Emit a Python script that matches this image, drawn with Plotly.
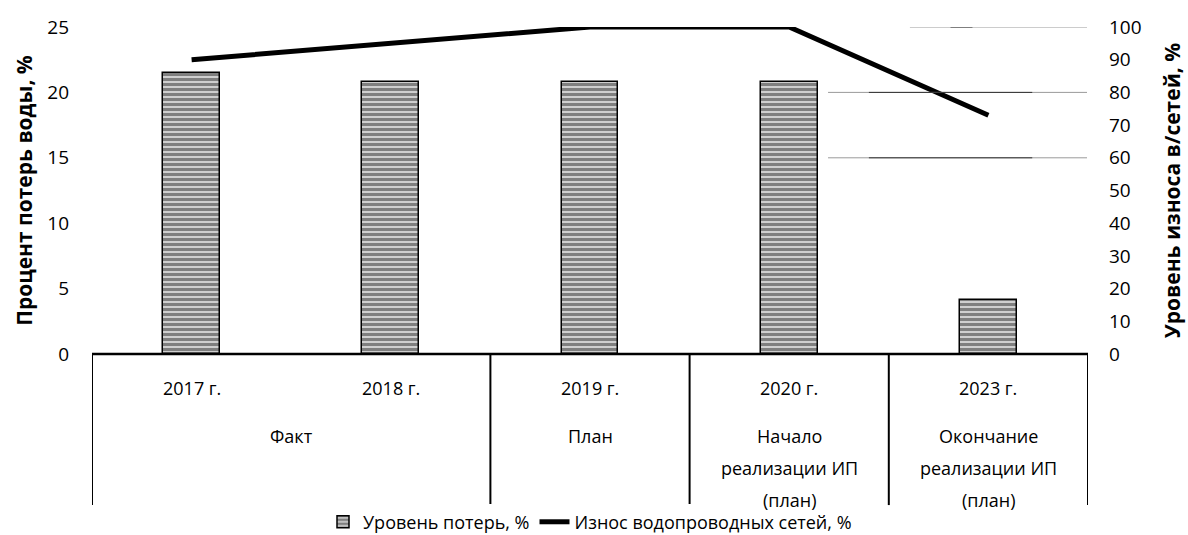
import plotly.graph_objects as go

years = ["2017 г.", "2018 г.", "2019 г.", "2020 г.", "2023 г."]
group_labels = ["Факт", "План", "Начало<br>реализации ИП<br>(план)", "Окончание<br>реализации ИП<br>(план)"]
group_sizes = [2, 1, 1, 1]
losses = [21.5, 20.8, 20.8, 20.8, 4.1]
wear = [90, 95, 100, 100, 73]

FONT = "Open Sans"
xs = list(range(len(years)))

fig = go.Figure()
fig.add_trace(go.Bar(
    x=xs, y=losses, name="Уровень потерь, %", width=0.285,
    marker=dict(color="white", line=dict(color="black", width=1.5),
                pattern=dict(shape="-", fgcolor="black", bgcolor="white", size=5, solidity=0.75)),
))
fig.add_trace(go.Scatter(
    x=xs, y=wear, name="Износ водопроводных сетей, %", yaxis="y2", mode="lines",
    line=dict(color="black", width=5), cliponaxis=False,
))

shapes = []
for yv, x0, x1 in [(100, 3.606, 4.495), (80, 3.195, 4.495), (60, 3.195, 4.495)]:
    shapes.append(dict(type="line", xref="x", yref="y2", x0=x0, x1=x1, y0=yv, y1=yv,
                       line=dict(color="#9a9a9a", width=1)))
for yv, x0, x1 in [(100, 3.81, 3.92), (80, 3.40, 4.22), (60, 3.40, 4.22)]:
    shapes.append(dict(type="line", xref="x", yref="y2", x0=x0, x1=x1, y0=yv, y1=yv,
                       line=dict(color="#333333", width=1)))

shapes.append(dict(type="line", xref="x", yref="paper", x0=-0.5, x1=len(years) - 0.5, y0=0, y1=0,
                   line=dict(color="black", width=2.5)))
annotations = []
CAT_FONT = dict(family=FONT, size=18, color="black")
for i, yl in enumerate(years):
    annotations.append(dict(x=i, y=-0.104, xref="x", yref="paper", text=yl, showarrow=False,
                            font=CAT_FONT, yanchor="middle"))
start = 0
bounds = [-0.5]
line_y = [-0.251, -0.349, -0.446]
for g, n in zip(group_labels, group_sizes):
    center = start + (n - 1) / 2
    for k, part in enumerate(g.split("<br>")):
        annotations.append(dict(x=center, y=line_y[k], xref="x", yref="paper", text=part,
                                showarrow=False, font=CAT_FONT, yanchor="middle"))
    start += n
    bounds.append(start - 0.5)
for b in bounds:
    shapes.append(dict(type="line", xref="x", yref="paper", x0=b, x1=b, y0=0, y1=-0.462,
                       line=dict(color="black", width=2)))

fig.update_layout(
    width=1188, height=535,
    margin=dict(l=92, r=100, t=27, b=181, autoexpand=False),
    plot_bgcolor="white", paper_bgcolor="white",
    font=dict(family=FONT, size=17, color="black"),
    xaxis=dict(range=[-0.5, len(years) - 0.5], showticklabels=False, showgrid=False,
               zeroline=False, showline=False, ticks="", automargin=False),
    yaxis=dict(range=[0, 25], dtick=5, showgrid=False, zeroline=False, showline=False,
               ticks="", ticklabelstandoff=22, automargin=False, tickfont=dict(size=19),
               title=dict(text="<b>Процент потерь воды, %</b>", font=dict(family=FONT, size=21), standoff=8)),
    yaxis2=dict(range=[0, 100], dtick=10, overlaying="y", side="right", showgrid=False,
                zeroline=False, showline=False, ticks="", ticklabelstandoff=20, automargin=False,
                tickfont=dict(size=19),
                title=dict(text="<b>Уровень износа в/сетей, %</b>", font=dict(family=FONT, size=21), standoff=24)),
    legend=dict(orientation="h", x=0.5, xanchor="center", y=-0.514, yanchor="middle",
                font=dict(family=FONT, size=18), traceorder="normal"),
    shapes=shapes, annotations=annotations, bargap=0,
    showlegend=True,
)

fig.write_html("out.html", config={"displayModeBar": False},
               post_script="document.body.style.margin='0';document.body.style.overflow='hidden';")
